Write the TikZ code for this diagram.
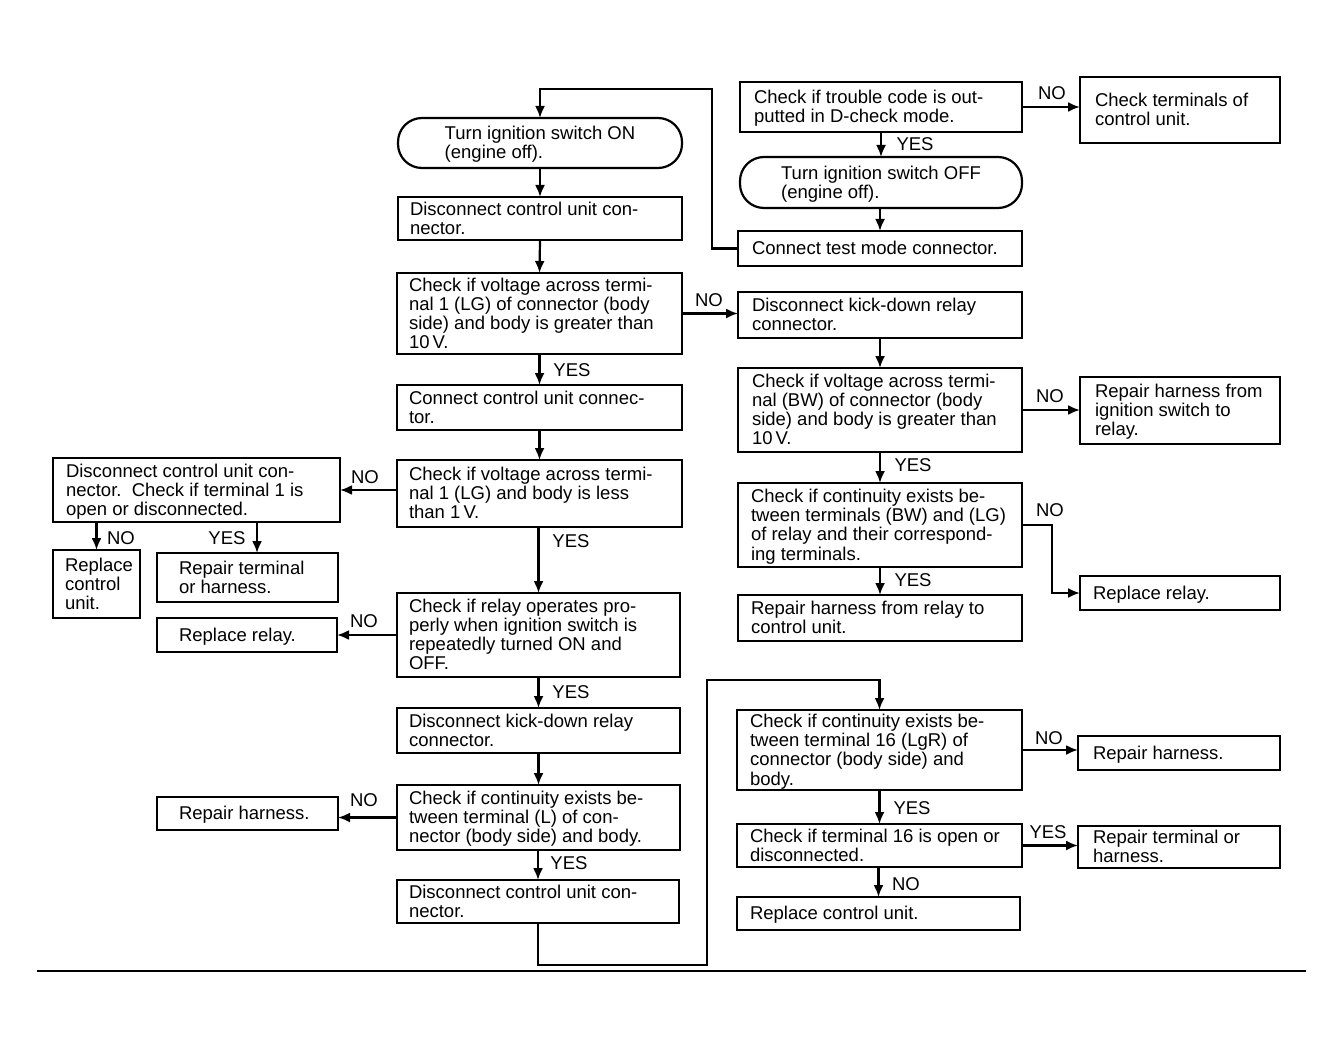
\documentclass[tikz,border=0pt]{standalone}
\usepackage{fontspec}
\setmainfont{Liberation Sans}
\usetikzlibrary{arrows.meta}
\tikzset{
  box/.style={draw, line width=2.2pt, inner ysep=0pt, outer sep=0pt, font=\fontsize{18.5}{19}\selectfont},
  rbox/.style={box, rounded corners=24pt},
  arr/.style={line width=2.2pt, -{Latex[length=12pt,width=10pt]}},
  lbl/.style={font=\fontsize{18.5}{19}\selectfont, inner sep=0pt}
}
\newcommand\bx[7]{%
  \pgfmathsetmacro\mybw{#4-#2}\pgfmathsetmacro\mybh{#5-#3}\pgfmathsetmacro\mytw{#4-#2-2*#6}%
  \node[box, minimum width=\mybw pt, minimum height=\mybh pt, inner xsep=#6pt] (#1) at ({(#2+#4)/2},{(#3+#5)/2})
    {\makebox[\mytw pt][l]{\raisebox{-2.5pt}[\height][\depth]{\begin{tabular}{@{}l@{}}#7\end{tabular}}}};}
\newcommand\rbx[6]{%
  \pgfmathsetmacro\mybw{#4-#2}\pgfmathsetmacro\mybh{#5-#3}%
  \node[rbox, minimum width=\mybw pt, minimum height=\mybh pt, inner xsep=0pt] (#1) at ({(#2+#4)/2},{(#3+#5)/2})
    {\raisebox{-2.5pt}[\height][\depth]{\begin{tabular}{@{}l@{}}#6\end{tabular}}};}
\begin{document}
\begin{tikzpicture}[x=1pt,y=-1pt]
\useasboundingbox[fill=white] (0,0) rectangle (1343,1048);
% left column
\rbx{b1}{398}{118}{682}{168}{Turn ignition switch ON\\(engine off).}
\bx{b2}{398}{197}{682}{240}{12}{Disconnect control unit con-\\nector.}
\bx{b3}{397}{273}{682}{354}{12}{Check if voltage across termi-\\nal 1 (LG) of connector (body\\side) and body is greater than\\10\,V.}
\bx{b4}{397}{385}{682}{430}{12}{Connect control unit connec-\\tor.}
\bx{b5}{397}{460}{682}{527}{12}{Check if voltage across termi-\\nal 1 (LG) and body is less\\than 1\,V.}
\bx{b6}{53}{458}{340}{522}{13}{Disconnect control unit con-\\nector.\ \ Check if terminal 1 is\\open or disconnected.}
\bx{b7}{53}{550}{140}{618}{12}{Replace\\control\\unit.}
\bx{b8}{157}{553}{338}{602}{22}{Repair terminal\\or harness.}
\bx{b9}{397}{593}{680}{677}{12}{Check if relay operates pro-\\perly when ignition switch is\\repeatedly turned ON and\\OFF.}
\bx{b10}{157}{618}{337}{652}{22}{Replace relay.}
\bx{b11}{397}{708}{680}{753}{12}{Disconnect kick-down relay\\connector.}
\bx{b12}{397}{785}{680}{850}{12}{Check if continuity exists be-\\tween terminal (L) of con-\\nector (body side) and body.}
\bx{b13}{157}{797}{338}{830}{22}{Repair harness.}
\bx{b14}{397}{880}{679}{923}{12}{Disconnect control unit con-\\nector.}
% right column
\bx{r1}{740}{82}{1022}{132}{14}{Check if trouble code is out-\\putted in D-check mode.}
\bx{r2}{1080}{77}{1280}{143}{15}{Check terminals of\\control unit.\\ }
\rbx{r3}{740}{157}{1022}{208}{Turn ignition switch OFF\\(engine off).}
\bx{r4}{738}{231}{1022}{266}{14}{Connect test mode connector.}
\bx{r5}{738}{292}{1022}{338}{14}{Disconnect kick-down relay\\connector.}
\bx{r6}{738}{368}{1022}{452}{14}{Check if voltage across termi-\\nal (BW) of connector (body\\side) and body is greater than\\10\,V.}
\bx{r7}{1080}{377}{1280}{444}{15}{Repair harness from\\ignition switch to\\relay.}
\bx{r8}{738}{483}{1022}{567}{13}{Check if continuity exists be-\\tween terminals (BW) and (LG)\\of relay and their correspond-\\ing terminals.}
\bx{r9}{1080}{576}{1280}{610}{13}{Replace relay.}
\bx{r10}{738}{595}{1022}{641}{13}{Repair harness from relay to\\control unit.}
\bx{r11}{737}{710}{1022}{790}{13}{Check if continuity exists be-\\tween terminal 16 (LgR) of\\connector (body side) and\\body.}
\bx{r12}{1078}{736}{1280}{770}{15}{Repair harness.}
\bx{r13}{737}{824}{1022}{867}{13}{Check if terminal 16 is open or\\disconnected.}
\bx{r14}{1078}{826}{1280}{868}{15}{Repair terminal or\\harness.}
\bx{r15}{737}{897}{1020}{930}{13}{Replace control unit.}
% coordinates
\coordinate (lp) at (712,89);
\coordinate (c68) at (257,522);
\coordinate (q1) at (707,965);
\coordinate (q2) at (707,680);
\coordinate (h1) at (37,971);
\coordinate (h2) at (1306,971);
% connectors
\draw[arr] (r4.west) -| (lp) -| (b1.north);
\draw[arr] (b1.south) -- (b2.north);
\draw[arr] (b2.south) -- (b3.north);
\draw[arr] (b4.north |- b3.south) -- (b4.north);
\draw[arr] (b3.east) -- (b3.east -| r5.west);
\draw[arr] (b4.south) -- (b5.north);
\draw[arr] (b6.east -| b5.west) -- (b6.east);
\draw[arr] (b7.north |- b6.south) -- (b7.north);
\draw[arr] (c68) -- (c68 |- b8.north);
\draw[arr] (b9.north |- b5.south) -- (b9.north);
\draw[arr] (b9.west) -- (b9.west -| b10.east);
\draw[arr] (b9.south) -- (b11.north);
\draw[arr] (b11.south) -- (b12.north);
\draw[arr] (b12.west) -- (b12.west -| b13.east);
\draw[arr] (b14.north |- b12.south) -- (b14.north);
\draw[arr] (b14.south) |- (q1) -- (q2) -| (r11.north);
\draw[arr] (r1.east) -- (r1.east -| r2.west);
\draw[arr] (r3.north |- r1.south) -- (r3.north);
\draw[arr] (r4.north |- r3.south) -- (r4.north);
\draw[arr] (r5.south) -- (r6.north);
\draw[arr] (r6.east) -- (r6.east -| r7.west);
\draw[arr] (r6.south) -- (r8.north);
\draw[arr] (r8.east) -- ++(30,0) |- (r9.west);
\draw[arr] (r8.south) -- (r10.north);
\draw[arr] (r11.east) -- (r11.east -| r12.west);
\draw[arr] (r11.south) -- (r13.north);
\draw[arr] (r13.east) -- (r13.east -| r14.west);
\draw[arr] (r15.north |- r13.south) -- (r15.north);
\draw[line width=1.4pt] (h1) -- (h2);
% labels
\node[lbl] (t1) at (1052,93) {NO};
\node[lbl] (t2) at (915,144) {YES};
\node[lbl] (t3) at (709,300) {NO};
\node[lbl] (t4) at (572,370) {YES};
\node[lbl] (t5) at (365,477) {NO};
\node[lbl] (t6) at (121,538) {NO};
\node[lbl] (t7) at (227,538) {YES};
\node[lbl] (t8) at (571,541) {YES};
\node[lbl] (t9) at (364,621) {NO};
\node[lbl] (t10) at (571,692) {YES};
\node[lbl] (t11) at (364,800) {NO};
\node[lbl] (t12) at (569,863) {YES};
\node[lbl] (t13) at (1050,396) {NO};
\node[lbl] (t14) at (913,465) {YES};
\node[lbl] (t15) at (1050,510) {NO};
\node[lbl] (t16) at (913,580) {YES};
\node[lbl] (t17) at (1049,738) {NO};
\node[lbl] (t18) at (912,808) {YES};
\node[lbl] (t19) at (1048,832) {YES};
\node[lbl] (t20) at (906,884) {NO};
\end{tikzpicture}
\end{document}
